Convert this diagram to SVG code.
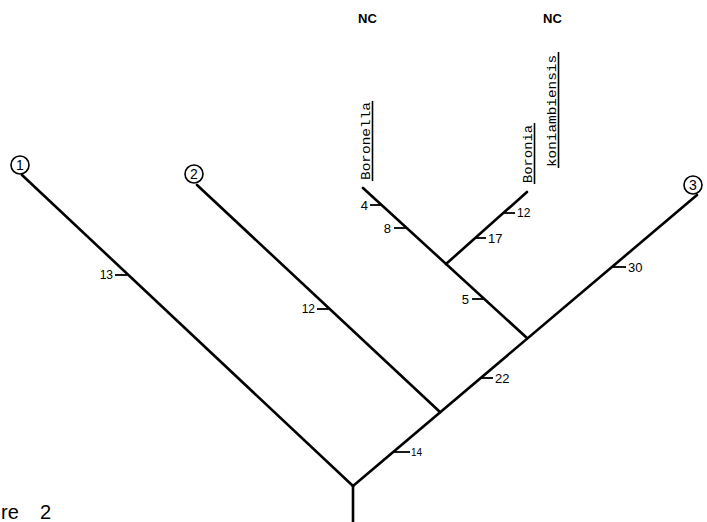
<svg xmlns="http://www.w3.org/2000/svg" width="707" height="522" viewBox="0 0 707 522">
<style>
.br{stroke:#000;stroke-width:2.6;fill:none;stroke-linecap:round}
.tk{stroke:#000;stroke-width:1.8;fill:none}
.ul{stroke:#000;stroke-width:1.6;fill:none}
.n{font-family:"Liberation Sans",Arial,sans-serif;font-size:12px;fill:#000}
.nl{font-family:"Liberation Sans",Arial,sans-serif;font-size:13px;fill:#000}
.ns{font-family:"Liberation Sans",Arial,sans-serif;font-size:10px;fill:#000}
.nc{font-family:"Liberation Sans",Arial,sans-serif;font-size:13px;font-weight:bold;fill:#000;text-anchor:middle}
.tx{font-family:"Liberation Mono","Courier New",monospace;font-size:13px;fill:#000}
.ci{stroke:#000;stroke-width:1.6;fill:#fff}
.cn{font-family:"Liberation Sans",Arial,sans-serif;font-size:14px;fill:#000;text-anchor:middle}
.cap{font-family:"Liberation Sans",Arial,sans-serif;font-size:20px;fill:#000}
</style>
<g id="connectors">
<line class="br" x1="353" y1="486" x2="353" y2="522"/>
<line class="br" x1="22" y1="175" x2="353" y2="486"/>
<line class="br" x1="197" y1="185" x2="440" y2="412"/>
<line class="br" x1="353" y1="486" x2="697" y2="195"/>
<line class="br" x1="363" y1="188" x2="527" y2="338"/>
<line class="br" x1="446" y1="264" x2="527" y2="192"/>
</g>
<g id="ticks">
<line class="tk" x1="115" y1="275" x2="127" y2="275"/><text class="n" x="113" y="279" text-anchor="end">13</text>
<line class="tk" x1="317" y1="309" x2="330" y2="309"/><text class="n" x="315" y="313" text-anchor="end">12</text>
<line class="tk" x1="370" y1="205" x2="382" y2="205"/><text class="nl" x="368" y="209.5" text-anchor="end">4</text>
<line class="tk" x1="394" y1="228" x2="407" y2="228"/><text class="nl" x="391" y="232.5" text-anchor="end">8</text>
<line class="tk" x1="472" y1="299" x2="484" y2="299"/><text class="nl" x="469" y="303.5" text-anchor="end">5</text>
<line class="tk" x1="503" y1="213" x2="515" y2="213"/><text class="n" x="517" y="217">12</text>
<line class="tk" x1="475" y1="238" x2="486" y2="238"/><text class="nl" x="488" y="242.5">17</text>
<line class="tk" x1="612" y1="267" x2="626" y2="267"/><text class="nl" x="628" y="271.5">30</text>
<line class="tk" x1="481" y1="378" x2="493" y2="378"/><text class="nl" x="495" y="382.5">22</text>
<line class="tk" x1="393" y1="452" x2="410" y2="452"/><text class="ns" x="411" y="455.5">14</text>
</g>
<g id="node-1"><circle class="ci" cx="20" cy="165" r="9"/><text class="cn" x="20" y="170">1</text></g>
<g id="node-2"><circle class="ci" cx="194" cy="174" r="9"/><text class="cn" x="194" y="179">2</text></g>
<g id="node-3"><circle class="ci" cx="693" cy="185" r="9"/><text class="cn" x="693" y="190">3</text></g>
<g id="node-boronella">
<text class="tx" transform="translate(369.5,180) rotate(-90)" textLength="78" lengthAdjust="spacingAndGlyphs">Boronella</text>
<line class="ul" x1="372.5" y1="101" x2="372.5" y2="181"/>
<text class="nc" x="367.5" y="23">NC</text>
</g>
<g id="node-boronia-koniambiensis">
<text class="tx" transform="translate(531.5,183) rotate(-90)" textLength="58" lengthAdjust="spacingAndGlyphs">Boronia</text>
<line class="ul" x1="534.5" y1="123" x2="534.5" y2="184"/>
<text class="tx" transform="translate(556,167) rotate(-90)" textLength="112" lengthAdjust="spacingAndGlyphs">koniambiensis</text>
<line class="ul" x1="558.5" y1="52" x2="558.5" y2="168"/>
<text class="nc" x="552.5" y="23">NC</text>
</g>
<g id="caption"><text class="cap" x="1" y="519">re<tspan x="40">2</tspan></text></g>
</svg>
